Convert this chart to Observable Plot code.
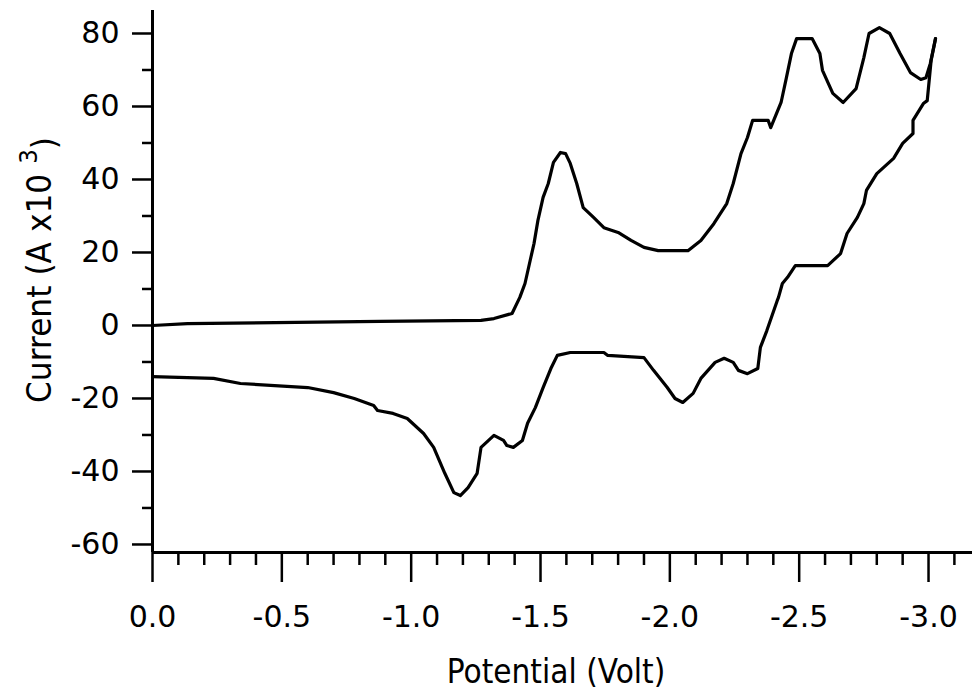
<!DOCTYPE html>
<html><head><meta charset="utf-8">
<script src="https://cdn.jsdelivr.net/npm/d3@7"></script>
<script src="https://cdn.jsdelivr.net/npm/@observablehq/plot@0.6"></script>
<style>
body{margin:0;background:#fff}
#chart svg{font-family:"DejaVu Sans",sans-serif}
</style>
</head><body><div id="chart"></div>
<script>
// Forward (cathodic) scan: potential (V) and current (A x10^3)
const forwardV = [0, -0.135, -0.88, -1.27, -1.32, -1.39, -1.42, -1.44, -1.46, -1.475, -1.49, -1.51, -1.53, -1.55, -1.577, -1.597, -1.615, -1.64, -1.665, -1.705, -1.745, -1.80, -1.85, -1.90, -1.955, -2.07, -2.12, -2.17, -2.22, -2.245, -2.275, -2.30, -2.32, -2.38, -2.39, -2.43, -2.45, -2.47, -2.49, -2.55, -2.58, -2.59, -2.63, -2.67, -2.72, -2.75, -2.77, -2.81, -2.85, -2.89, -2.93, -2.97, -2.99, -3.007, -3.027];
const forwardI = [0, 0.5, 1.1, 1.4, 1.9, 3.3, 7.7, 11.5, 17.8, 22.5, 28.8, 35.1, 38.9, 44.7, 47.4, 47.1, 44.4, 38.9, 32.3, 29.6, 26.8, 25.5, 23.3, 21.4, 20.5, 20.5, 23.3, 27.9, 33.4, 38.9, 47.1, 51.5, 56.2, 56.2, 54.2, 61.1, 67.7, 74.5, 78.6, 78.6, 74.5, 69.9, 63.6, 61.1, 64.9, 73.4, 80, 81.6, 80, 74.5, 69.3, 67.4, 67.9, 71.8, 78.6];
// Reverse (anodic) scan
const reverseV = [-3.027, -3.01, -2.995, -2.98, -2.94, -2.94, -2.90, -2.865, -2.80, -2.76, -2.75, -2.725, -2.685, -2.66, -2.61, -2.485, -2.455, -2.435, -2.42, -2.415, -2.375, -2.35, -2.34, -2.30, -2.265, -2.245, -2.21, -2.175, -2.12, -2.09, -2.05, -2.02, -1.99, -1.937, -1.90, -1.76, -1.745, -1.615, -1.565, -1.54, -1.51, -1.48, -1.45, -1.43, -1.395, -1.37, -1.357, -1.32, -1.27, -1.255, -1.22, -1.19, -1.165, -1.13, -1.087, -1.048, -0.985, -0.93, -0.87, -0.855, -0.78, -0.70, -0.60, -0.34, -0.236, 0];
const reverseI = [78.6, 72.6, 61.6, 60.8, 56.2, 52.6, 49.9, 45.8, 41.6, 37, 33.4, 29.6, 25.2, 19.7, 16.4, 16.4, 13.2, 11.5, 7.7, 6.8, -1.4, -6.0, -11.8, -13.2, -12.3, -10.1, -9.0, -10.1, -14.5, -18.6, -21.1, -20, -17, -12.3, -8.8, -8.2, -7.4, -7.4, -8.2, -11.8, -17, -22.5, -26.8, -31.5, -33.4, -32.9, -31.5, -30.1, -33.4, -40.5, -44.4, -46.6, -45.8, -40.5, -33.4, -29.6, -25.5, -24.1, -23.3, -21.9, -20, -18.4, -17, -15.9, -14.5, -14];

const xMajorTicks = [0, -0.5, -1.0, -1.5, -2.0, -2.5, -3.0];
const xTickLabels = ["0.0", "-0.5", "-1.0", "-1.5", "-2.0", "-2.5", "-3.0"];
const yMajorTicks = [-60, -40, -20, 0, 20, 40, 60, 80];
const yTickLabels = ["-60", "-40", "-20", "0", "20", "40", "60", "80"];
const xTitle = "Potential (Volt)";
const yTitleMain = "Current (A x10 ";
const yTitleSup = "3";
const yTitleEnd = ")";

const xDomain = [0, -3.17];
const yDomain = [-62.2, 86.3];

const forward = forwardV.map((v, i) => ({v, c: forwardI[i]}));
const reverse = reverseV.map((v, i) => ({v, c: reverseI[i]}));
const xMinor = d3.range(1, 32).map(k => -k / 10).filter(v => Math.abs(v * 2 - Math.round(v * 2)) > 1e-6);
const yMinor = d3.range(-50, 90, 20);

const chart = Plot.plot({
  width: 972, height: 698,
  marginLeft: 152, marginRight: 0, marginTop: 10, marginBottom: 146,
  style: {fontSize: "30px", background: "#fff", color: "#000"},
  x: {domain: xDomain, label: null},
  y: {domain: yDomain, label: null},
  marks: [
    Plot.axisX({ticks: xMinor, tickSize: 13, tickFormat: () => "", strokeWidth: 2.5, label: null}),
    Plot.axisX({ticks: xMajorTicks, tickSize: 30, tickPadding: 23, strokeWidth: 2.5, label: null,
      tickFormat: d => xTickLabels[xMajorTicks.indexOf(d)], fontSize: 30}),
    Plot.axisY({ticks: yMinor, tickSize: 10, tickFormat: () => "", strokeWidth: 2.5, label: null}),
    Plot.axisY({ticks: yMajorTicks, tickSize: 20, tickPadding: 13, strokeWidth: 2.5, label: null,
      tickFormat: d => yTickLabels[yMajorTicks.indexOf(d)], fontSize: 30}),
    Plot.ruleX([0], {y1: yDomain[0], y2: yDomain[1], strokeWidth: 3}),
    Plot.ruleY([yDomain[0]], {x1: xDomain[0], x2: xDomain[1], strokeWidth: 3}),
    Plot.line(forward, {x: "v", y: "c", stroke: "#000", strokeWidth: 3.2, strokeLinejoin: "round"}),
    Plot.line(reverse, {x: "v", y: "c", stroke: "#000", strokeWidth: 3.2, strokeLinejoin: "round"})
  ]
});

const svg = d3.select(chart);
svg.selectAll('g[aria-label$="tick label"]').style("font-size", "30px");
svg.append("text")
  .attr("transform", "translate(556,683) scale(0.9,1)")
  .attr("text-anchor", "middle")
  .style("font-size", "33px")
  .attr("fill", "#000")
  .text(xTitle);
const yt = svg.append("text")
  .attr("transform", "translate(51,270) rotate(-90) scale(0.92,1)")
  .attr("text-anchor", "middle")
  .style("font-size", "34px")
  .attr("fill", "#000");
yt.append("tspan").text(yTitleMain);
yt.append("tspan").attr("dy", "-0.55em").style("font-size", "25px").text(yTitleSup);
yt.append("tspan").attr("dy", "0.55em").text(yTitleEnd);

document.getElementById("chart").appendChild(chart);
</script>
</body></html>
